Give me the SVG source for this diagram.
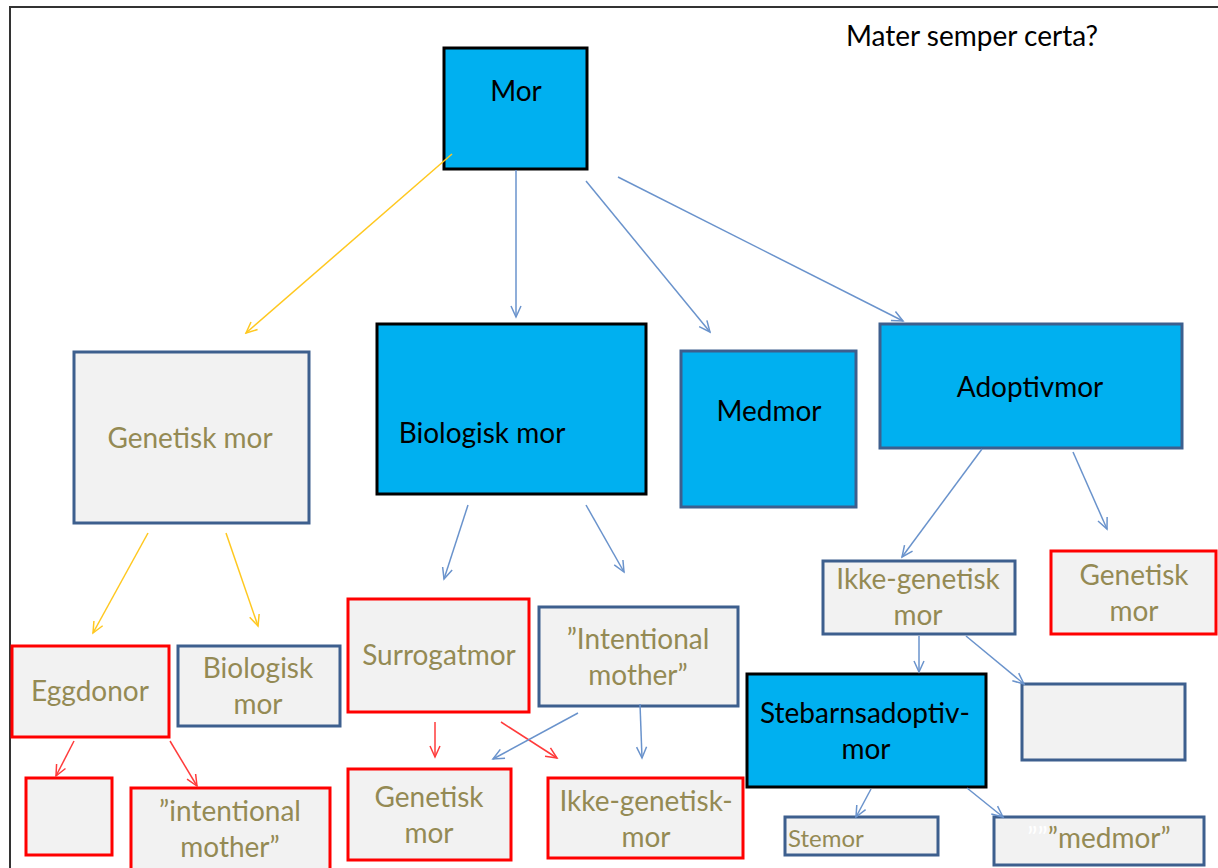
<svg xmlns="http://www.w3.org/2000/svg" width="1218" height="868" viewBox="0 0 1218 868">
<style>
.b{fill:#F2F2F2;stroke:#3D5F8E;stroke-width:3}
.r{fill:#F2F2F2;stroke:#FF0000;stroke-width:3}
.c{fill:#00B0F0;stroke:#000;stroke-width:3}
.cb{fill:#00B0F0;stroke:#3D5F8E;stroke-width:3}
text{font-family:Lato,"Liberation Sans",sans-serif;font-size:28px;text-anchor:middle}
.o{fill:#948A54}
.k{fill:#000}
.st{text-anchor:start;font-size:24px}
.cy{fill:none;stroke:#FFC820;stroke-width:1.5}
.cl{fill:none;stroke:#6A93CC;stroke-width:1.5}
.cr{fill:none;stroke:#FF3B3B;stroke-width:1.5}
</style>
<defs>
<marker id="ay" markerUnits="userSpaceOnUse" markerWidth="14" markerHeight="14" refX="12" refY="6" orient="auto" viewBox="0 0 14 12"><path d="M1,1 L12,6 L1,11" fill="none" stroke="#FFC820" stroke-width="1.5"/></marker>
<marker id="al" markerUnits="userSpaceOnUse" markerWidth="14" markerHeight="14" refX="12" refY="6" orient="auto" viewBox="0 0 14 12"><path d="M1,1 L12,6 L1,11" fill="none" stroke="#6A93CC" stroke-width="1.5"/></marker>
<marker id="ar" markerUnits="userSpaceOnUse" markerWidth="14" markerHeight="14" refX="12" refY="6" orient="auto" viewBox="0 0 14 12"><path d="M1,1 L12,6 L1,11" fill="none" stroke="#FF3B3B" stroke-width="1.5"/></marker>
</defs>
<rect width="1218" height="868" fill="#fff"/>
<path d="M10,868 L10,7 L1218,7" fill="none" stroke="#333" stroke-width="2"/>
<text x="972" y="46" class="k" font-size="27">Mater semper certa?</text>

<g id="mor"><rect class="c" x="444" y="48" width="143" height="121"/><text x="516" y="101" class="k">Mor</text></g>
<g id="genetisk-mor-top"><rect class="b" x="74" y="352" width="235" height="171"/><text x="190" y="448" class="o">Genetisk mor</text></g>
<g id="biologisk-mor-top"><rect class="c" x="377" y="324" width="269" height="170"/><text x="482" y="443" class="k">Biologisk mor</text></g>
<g id="medmor"><rect class="cb" x="681" y="351" width="175" height="156"/><text x="769" y="421" class="k">Medmor</text></g>
<g id="adoptivmor"><rect class="cb" x="880" y="324" width="302" height="124"/><text x="1030" y="397" class="k">Adoptivmor</text></g>
<g id="ikke-genetisk-mor"><rect class="b" x="823" y="561" width="192" height="73"/><text x="918" y="589" class="o">Ikke-genetisk</text><text x="918" y="625" class="o">mor</text></g>
<g id="genetisk-mor-right"><rect class="r" x="1051" y="551" width="165" height="83"/><text x="1134" y="585" class="o">Genetisk</text><text x="1134" y="621" class="o">mor</text></g>
<g id="stebarnsadoptivmor"><rect class="c" x="747" y="674" width="239" height="113"/><text x="865" y="723" class="k">Stebarnsadoptiv-</text><text x="866" y="759" class="k">mor</text></g>
<g id="empty-right"><rect class="b" x="1022" y="684" width="163" height="76"/></g>
<g id="stemor"><rect class="b" x="785" y="817" width="153" height="38"/><text x="788" y="847" class="o st">Stemor</text></g>
<g id="medmor-quote"><rect class="b" x="994" y="817" width="210" height="48"/><text x="1099" y="848" class="o"><tspan fill="#fff">””</tspan>”medmor”</text></g>
<g id="surrogatmor"><rect class="r" x="348" y="599" width="181" height="113"/><text x="439" y="665" class="o">Surrogatmor</text></g>
<g id="intentional-mother"><rect class="b" x="539" y="607" width="199" height="99"/><text x="638" y="649" class="o">”Intentional</text><text x="638" y="685" class="o">mother”</text></g>
<g id="eggdonor"><rect class="r" x="12" y="646" width="157" height="91"/><text x="90" y="701" class="o">Eggdonor</text></g>
<g id="biologisk-mor-bottom"><rect class="b" x="178" y="646" width="162" height="80"/><text x="258" y="678" class="o">Biologisk</text><text x="258" y="714" class="o">mor</text></g>
<g id="empty-red"><rect class="r" x="26" y="778" width="86" height="77"/></g>
<g id="intentional-mother-red"><rect class="r" x="131" y="788" width="199" height="84"/><text x="230" y="821" class="o">”intentional</text><text x="230" y="857" class="o">mother”</text></g>
<g id="genetisk-mor-bottom"><rect class="r" x="348" y="769" width="163" height="91"/><text x="429" y="807" class="o">Genetisk</text><text x="429" y="843" class="o">mor</text></g>
<g id="ikke-genetisk-mor-bottom"><rect class="r" x="548" y="778" width="195" height="80"/><text x="646" y="811" class="o">Ikke-genetisk-</text><text x="646" y="847" class="o">mor</text></g>

<g id="connectors">
<line class="cy" x1="452" y1="154" x2="246" y2="333" marker-end="url(#ay)"/>
<line class="cl" x1="516" y1="170" x2="516" y2="317" marker-end="url(#al)"/>
<line class="cl" x1="586" y1="181" x2="710" y2="332" marker-end="url(#al)"/>
<line class="cl" x1="618" y1="177" x2="903" y2="321" marker-end="url(#al)"/>
<line class="cy" x1="148" y1="533" x2="93" y2="633" marker-end="url(#ay)"/>
<line class="cy" x1="226" y1="533" x2="258" y2="626" marker-end="url(#ay)"/>
<line class="cl" x1="468" y1="505" x2="444" y2="579" marker-end="url(#al)"/>
<line class="cl" x1="586" y1="505" x2="624" y2="572" marker-end="url(#al)"/>
<line class="cl" x1="982" y1="449" x2="902" y2="557" marker-end="url(#al)"/>
<line class="cl" x1="1073" y1="452" x2="1107" y2="529" marker-end="url(#al)"/>
<line class="cl" x1="919" y1="636" x2="919" y2="672" marker-end="url(#al)"/>
<line class="cl" x1="966" y1="636" x2="1024" y2="684" marker-end="url(#al)"/>
<line class="cl" x1="871" y1="789" x2="856" y2="817" marker-end="url(#al)"/>
<line class="cl" x1="967" y1="788" x2="1003" y2="817" marker-end="url(#al)"/>
<line class="cr" x1="435" y1="722" x2="435" y2="757" marker-end="url(#ar)"/>
<line class="cr" x1="501" y1="722" x2="557" y2="758" marker-end="url(#ar)"/>
<line class="cl" x1="578" y1="713" x2="493" y2="759" marker-end="url(#al)"/>
<line class="cl" x1="640" y1="704" x2="642" y2="758" marker-end="url(#al)"/>
<line class="cr" x1="74" y1="741" x2="56" y2="776" marker-end="url(#ar)"/>
<line class="cr" x1="170" y1="741" x2="197" y2="786" marker-end="url(#ar)"/>
</g>
</svg>
